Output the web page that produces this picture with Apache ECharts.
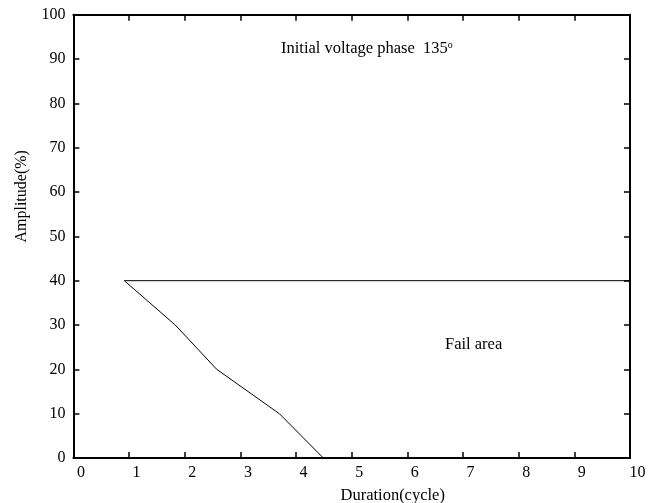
<!DOCTYPE html>
<html>
<head>
<meta charset="utf-8">
<script src="https://cdn.jsdelivr.net/npm/echarts@6/dist/echarts.min.js"></script>
<style>html,body{margin:0;padding:0;background:#fff}#c{width:664px;height:503px}</style>
</head>
<body>
<div id="c"></div>
<script>
var xTicks = [0,1,2,3,4,5,6,7,8,9,10];
var yTicks = [0,10,20,30,40,50,60,70,80,90,100];
var boundaryX = [0.915, 1.83, 2.575, 3.70, 4.49];
var boundaryY = [40, 30, 20, 10, 0];
var limitX = [0.915, 10];
var limitY = [40, 40];
var titleText = 'Initial voltage phase  135';
var areaText = 'Fail area';
var xName = 'Duration(cycle)';
var yName = 'Amplitude(%)';

var FONT = 'Liberation Serif';
var chart = echarts.init(document.getElementById('c'));
function pairs(xs, ys){ return xs.map(function(x,i){ return [x, ys[i]]; }); }
var axisLine = {show:true, onZero:false, lineStyle:{color:'#000', width:2}};
chart.setOption({
  animation:false,
  grid:{left:73.4, right:34, top:14.7, bottom:45, containLabel:false, outerBoundsMode:'none'},
  xAxis:[
    {type:'value', min:0, max:10, interval:1, position:'bottom',
     axisLine:axisLine, axisTick:{show:true, inside:true, length:6, lineStyle:{color:'#000', width:1.5}},
     axisLabel:{color:'#000', fontFamily:FONT, fontSize:16, margin:7, padding:[0,0,0,15],
       formatter:function(v){return xTicks.indexOf(v)>=0?String(v):'';}},
     splitLine:{show:false},
     name:xName, nameLocation:'middle', nameGap:29,
     nameTextStyle:{color:'#000', fontFamily:FONT, fontSize:16.5, padding:[0,0,0,82]}},
    {type:'value', min:0, max:10, interval:1, position:'top',
     axisLine:axisLine, axisTick:{show:true, inside:true, length:6, lineStyle:{color:'#000', width:1.5}},
     axisLabel:{show:false}, splitLine:{show:false}}
  ],
  yAxis:[
    {type:'value', min:0, max:100, interval:10, position:'left',
     axisLine:axisLine, axisTick:{show:true, inside:true, length:6, lineStyle:{color:'#000', width:1.5}},
     axisLabel:{color:'#000', fontFamily:FONT, fontSize:16, margin:8, padding:[8,0,0,0],
       formatter:function(v){return yTicks.indexOf(v)>=0?String(v):'';}},
     splitLine:{show:false},
     name:yName, nameLocation:'middle', nameGap:44, nameRotate:90,
     nameTextStyle:{color:'#000', fontFamily:FONT, fontSize:16, padding:[0,0,0,80]}},
    {type:'value', min:0, max:100, interval:10, position:'right',
     axisLine:axisLine, axisTick:{show:true, inside:true, length:6, lineStyle:{color:'#000', width:1.5}},
     axisLabel:{show:false}, splitLine:{show:false}}
  ],
  series:[
    {type:'line', data:pairs(boundaryX, boundaryY), symbol:'none', lineStyle:{color:'#000', width:1}},
    {type:'line', data:pairs(limitX, limitY), symbol:'none', lineStyle:{color:'#000', width:1}}
  ],
  graphic:[
    {type:'text', left:281, top:40, style:{text:'{a|'+titleText+'}{s|o}', rich:{
      a:{fontFamily:FONT, fontSize:16.5, fill:'#000'},
      s:{fontFamily:FONT, fontSize:10, fill:'#000', verticalAlign:'top', padding:[0,0,7,0]}}}},
    {type:'text', left:445, top:336, style:{text:areaText, fontFamily:FONT, fontSize:16.5, fill:'#000'}}
  ]
});
</script>
</body>
</html>
